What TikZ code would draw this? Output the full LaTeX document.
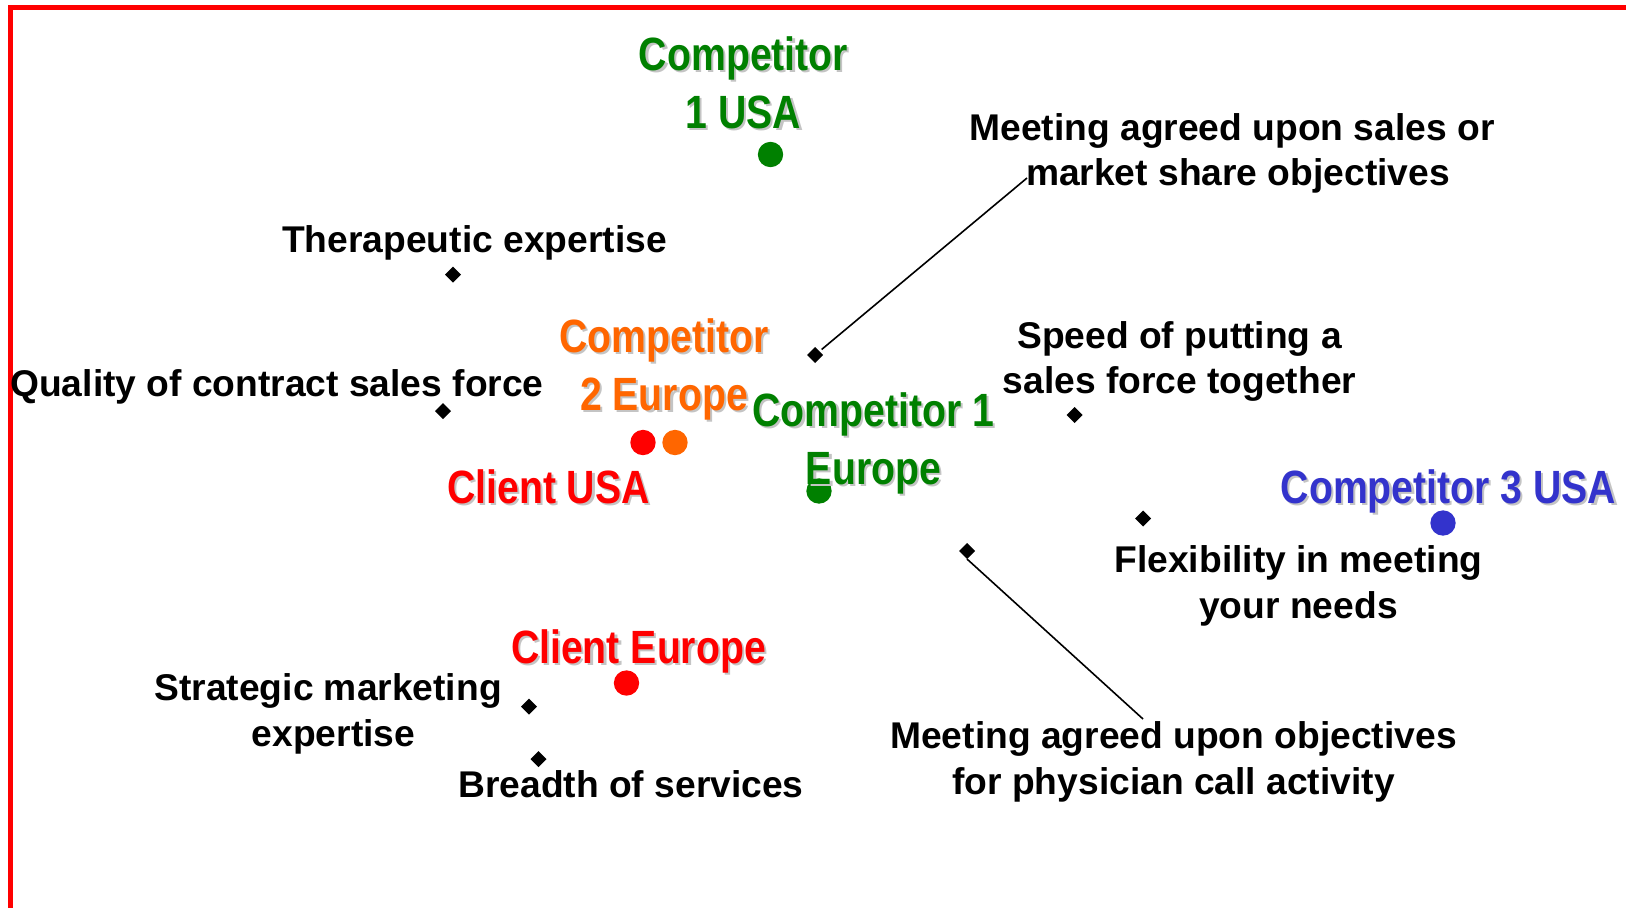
\documentclass[tikz,border=0pt]{standalone}
\usepackage{fontspec}
\setmainfont{Liberation Sans}[BoldFont={Liberation Sans Bold}]
\newfontfamily\condfont{Liberation Sans Bold}[FakeStretch=0.84]
\definecolor{cgreen}{HTML}{008000}
\definecolor{corange}{HTML}{FF6600}
\definecolor{cblue}{HTML}{3333CC}
\definecolor{cred}{HTML}{FF0000}
\definecolor{cshade}{HTML}{C4C4C4}
\newcommand{\shd}[1]{\makebox[0pt][l]{\kern1.6pt\raisebox{-1.6pt}{\textcolor{cshade}{#1}}}#1}
\usetikzlibrary{shapes.geometric}
\tikzset{
  every node/.style={inner sep=0pt,outer sep=0pt},
  lbl/.style={font=\bfseries\fontsize{27.9}{34}\selectfont,align=center,text=black},
  big/.style={font=\condfont\fontsize{35}{43.5}\selectfont,align=center},
  dot/.style={circle,minimum size=19pt},
  dmd/.style={diamond,fill=black,minimum size=12pt},
  conn/.style={draw=black,line width=1.2pt},
}
\begin{document}
\begin{tikzpicture}[x=0.75pt,y=-0.75pt]
\useasboundingbox (0,0) rectangle (1626,908);
\fill[cred] (8,5) rectangle (1626,10);
\fill[cred] (8,5) rectangle (13,908);
% dots
\node[dot,fill=cgreen] (dA) at (770.5,154.5) {};
\node[dot,fill=cred] (dB) at (643,442.5) {};
\node[dot,fill=corange] (dC) at (675,442.5) {};
\node[dot,fill=cgreen] (dD) at (819,491) {};
\node[dot,fill=cblue] (dE) at (1443,523) {};
\node[dot,fill=cred] (dF) at (626.5,683) {};
% diamonds
\node[dmd] (m1) at (453,274.5) {};
\node[dmd] (m2) at (443,411) {};
\node[dmd] (m3) at (815,355) {};
\node[dmd] (m4) at (1074.5,415) {};
\node[dmd] (m5) at (1143,518.5) {};
\node[dmd] (m6) at (967,551) {};
\node[dmd] (m7) at (529,706.5) {};
\node[dmd] (m8) at (538.5,759) {};
% coloured labels
\node[big,text=cgreen] (t1) at (743.5,84) {\shd{Competitor}\\\shd{1 USA}};
\node[big,text=corange] (t2) at (664,370) {\shd{Competitor}\\\shd{2 Europe}};
\node[big,text=cred] (t3) at (548.5,488) {\shd{Client USA}};
\node[big,text=cgreen] (t4) at (873.5,444) {\shd{Competitor 1}\\\shd{Europe}};
\node[big,text=cblue] (t5) at (1448.5,492) {\shd{Competitor 3 USA}};
\node[big,text=cred] (t6) at (638.5,652) {\shd{Client Europe}};
% black labels
\node[lbl] (b1) at (1238,153.5) {Meeting agreed upon sales or\kern9pt\\market share objectives};
\node[lbl] (b2) at (474.5,243) {Therapeutic expertise};
\node[lbl] (b3) at (277,387) {Quality of contract sales force};
\node[lbl] (b4) at (1179.5,361.5) {Speed of putting a\\sales force together};
\node[lbl] (b5) at (1298.5,586) {Flexibility in meeting\\your needs};
\node[lbl] (b6) at (1173.5,762) {Meeting agreed upon objectives\\for physician call activity};
\node[lbl] (b7) at (333.5,714) {Strategic marketing\kern8pt\\expertise};
\node[lbl] (b8) at (631,784.5) {Breadth of services};
% connectors
\coordinate (c1) at (1027,178);
\coordinate (c2) at (1143,719);
\draw[conn,shorten <=6.5pt] (m3.center) -- (c1);
\draw[conn] (m6.south) -- (c2);
\end{tikzpicture}
\end{document}
